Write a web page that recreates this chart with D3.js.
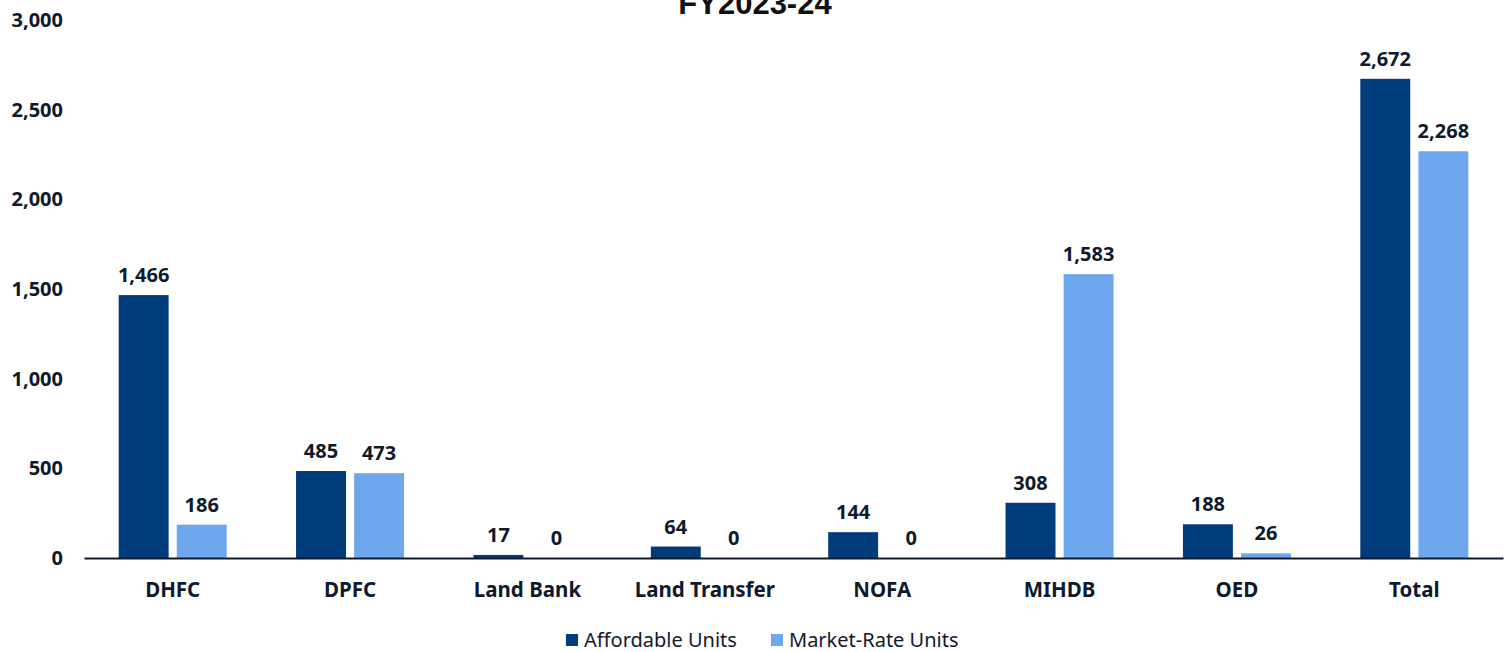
<!DOCTYPE html>
<html><head><meta charset="utf-8">
<script src="https://cdn.jsdelivr.net/npm/d3@7/dist/d3.min.js"></script>
<style>body{margin:0;background:#fff}svg{display:block}</style>
</head><body>
<svg id="c" width="1509" height="652"></svg>
<script>
const categories = ["DHFC","DPFC","Land Bank","Land Transfer","NOFA","MIHDB","OED","Total"];
const affordable = [1466,485,17,64,144,308,188,2672];
const marketRate = [186,473,0,0,0,1583,26,2268];
const seriesNames = ["Affordable Units","Market-Rate Units"];
const yTicks = [0,500,1000,1500,2000,2500,3000];
const colors = ["#003b7a","#6fa7ef"];
const textColor = "#0e1a2c";

const svg = d3.select("#c");
const font = "'Noto Sans', 'Open Sans', sans-serif";
const x0 = d3.scaleBand().domain(categories).range([84,1503]);
const x1 = d3.scaleBand().domain([0,1]).range([x0.bandwidth()/2-54, x0.bandwidth()/2+54]).paddingInner(0.14);
const y = d3.scaleLinear().domain([0,3000]).range([558,20]);

svg.append("text").attr("x",755).attr("y",14).attr("text-anchor","middle")
  .attr("font-family","'Liberation Sans', Arial, sans-serif").attr("font-weight","bold")
  .attr("font-size",31).attr("fill","#111").text("FY2023-24");

const yAxis = svg.append("g").attr("transform","translate(63,0)")
  .call(d3.axisLeft(y).tickValues(yTicks).tickFormat(d3.format(",")).tickSize(0).tickPadding(0));
yAxis.select(".domain").remove();
yAxis.selectAll("text").attr("font-family",font).attr("font-weight","bold").attr("font-size",20).attr("fill",textColor);

const data = categories.map((c,i)=>({c, v:[affordable[i], marketRate[i]]}));
const g = svg.append("g").selectAll("g").data(data).join("g")
  .attr("transform",d=>`translate(${x0(d.c)},0)`);
g.selectAll("rect").data(d=>d.v.map((v,k)=>({v,k}))).join("rect")
  .attr("x",d=>x1(d.k)).attr("width",x1.bandwidth())
  .attr("y",d=>y(d.v)).attr("height",d=>y(0)-y(d.v))
  .attr("fill",d=>colors[d.k]);
g.selectAll("text.v").data(d=>d.v.map((v,k)=>({v,k}))).join("text")
  .attr("class","v").attr("x",d=>x1(d.k)+x1.bandwidth()/2).attr("y",d=>y(d.v)-13)
  .attr("text-anchor","middle").attr("font-family",font).attr("font-weight","bold")
  .attr("font-size",20).attr("fill",textColor).text(d=>d3.format(",")(d.v));

const xAxis = svg.append("g").attr("transform","translate(0,558)")
  .call(d3.axisBottom(x0).tickSize(0).tickPadding(24));
xAxis.select(".domain").attr("stroke","#0e1a2c").attr("stroke-width",2);
xAxis.selectAll("text").attr("font-family",font).attr("font-weight","bold").attr("font-size",20.5).attr("fill",textColor);

const legX = [566,771];
const leg = svg.append("g").selectAll("g").data(seriesNames).join("g")
  .attr("transform",(d,i)=>`translate(${legX[i]},640)`);
leg.append("rect").attr("x",0).attr("y",-6).attr("width",12).attr("height",12).attr("fill",(d,i)=>colors[i]);
leg.append("text").attr("x",18).attr("y",7).attr("font-family",font).attr("font-size",20)
  .attr("fill",textColor).text(d=>d);
</script>
</body></html>
